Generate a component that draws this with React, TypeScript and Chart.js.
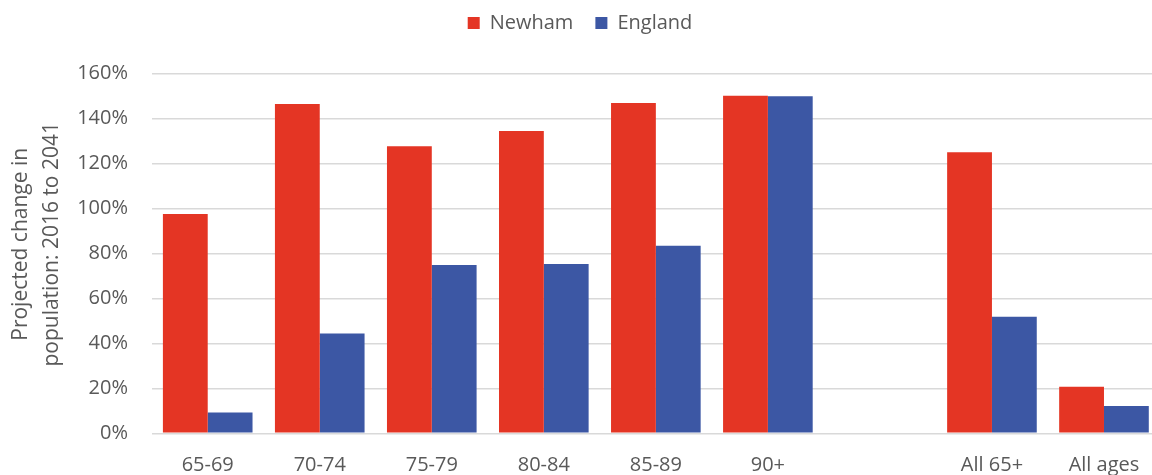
import React, { useEffect, useRef } from "react";
import { Chart, registerables } from "chart.js";

Chart.register(...registerables);

const categories = ["65-69", "70-74", "75-79", "80-84", "85-89", "90+", "", "All 65+", "All ages"];
const newhamValues = [97.5, 146.4, 127.6, 134.4, 146.8, 150.0, null, 124.9, 20.7];
const englandValues = [9.2, 44.4, 74.8, 75.2, 83.4, 149.8, null, 51.8, 12.1];
const yTicks = [0, 20, 40, 60, 80, 100, 120, 140, 160];

const TEXT = "#595959";
const GRID = "#d9d9d9";
const FONT = "'Open Sans', sans-serif";

const layoutTweaks = {
  id: "layoutTweaks",
  beforeLayout(chart: any) {
    const legend = chart.legend;
    if (legend && !legend.__patched) {
      const origFit = legend.fit;
      legend.fit = function () {
        origFit.call(this);
        this.height = 73.3;
      };
      const origDraw = legend.draw;
      legend.draw = function (...args: any[]) {
        const ctx = this.ctx;
        ctx.save();
        ctx.translate(0, -9);
        origDraw.apply(this, args);
        ctx.restore();
      };
      legend.__patched = true;
    }
  },
  afterLayout(chart: any) {
    const y = chart.scales.y;
    if (y && !y.__patched) {
      const orig = y.drawTitle;
      y.drawTitle = function (...args: any[]) {
        const ctx = this.ctx;
        ctx.save();
        ctx.translate(0, -9);
        orig.apply(this, args);
        ctx.restore();
      };
      y.__patched = true;
    }
  },
};

export default function App() {
  const ref = useRef<HTMLCanvasElement>(null);

  useEffect(() => {
    if (!ref.current) return;
    const chart = new Chart(ref.current, {
      type: "bar",
      data: {
        labels: categories,
        datasets: [
          {
            label: "Newham",
            data: newhamValues,
            backgroundColor: "#E43524",
            categoryPercentage: 0.8,
            barPercentage: 1.0,
          },
          {
            label: "England",
            data: englandValues,
            backgroundColor: "#3C57A4",
            categoryPercentage: 0.8,
            barPercentage: 1.0,
          },
        ],
      },
      options: {
        animation: false,
        responsive: true,
        maintainAspectRatio: false,
        layout: { padding: 0 },
        plugins: {
          legend: {
            position: "top",
            labels: {
              boxWidth: 12,
              boxHeight: 12,
              padding: 22,
              color: TEXT,
              font: { family: FONT, size: 20 },
            },
          },
          tooltip: { enabled: false },
        },
        scales: {
          x: {
            grid: { display: false, drawTicks: false },
            border: { display: false },
            ticks: {
              color: TEXT,
              font: { family: FONT, size: 20 },
              padding: 20,
              maxRotation: 0,
              autoSkip: false,
            },
            afterFit(scale: any) {
              scale.height = 41.7;
            },
          },
          y: {
            min: 0,
            max: 160,
            afterBuildTicks(scale: any) {
              scale.ticks = yTicks.map((v) => ({ value: v }));
            },
            grid: { color: GRID, lineWidth: 1.5, drawTicks: false },
            border: { display: false },
            ticks: {
              color: TEXT,
              font: { family: FONT, size: 20 },
              padding: 23.7,
              callback: (v: any) => v + "%",
            },
            title: {
              display: true,
              text: ["Projected change in", "population: 2016 to 2041"],
              color: TEXT,
              font: { family: FONT, size: 21, lineHeight: 1.5 },
              padding: { top: 5, bottom: 0 },
            },
            afterFit(scale: any) {
              scale.width = 151.7;
            },
          },
        },
      },
      plugins: [layoutTweaks],
    });
    return () => chart.destroy();
  }, []);

  return (
    <div
      style={{
        position: "fixed",
        left: 0,
        top: 0,
        width: 1152,
        height: 475,
        overflow: "hidden",
        background: "#fff",
      }}
    >
      <div style={{ position: "relative", width: 1160, height: 475 }}>
        <canvas ref={ref} />
      </div>
    </div>
  );
}
